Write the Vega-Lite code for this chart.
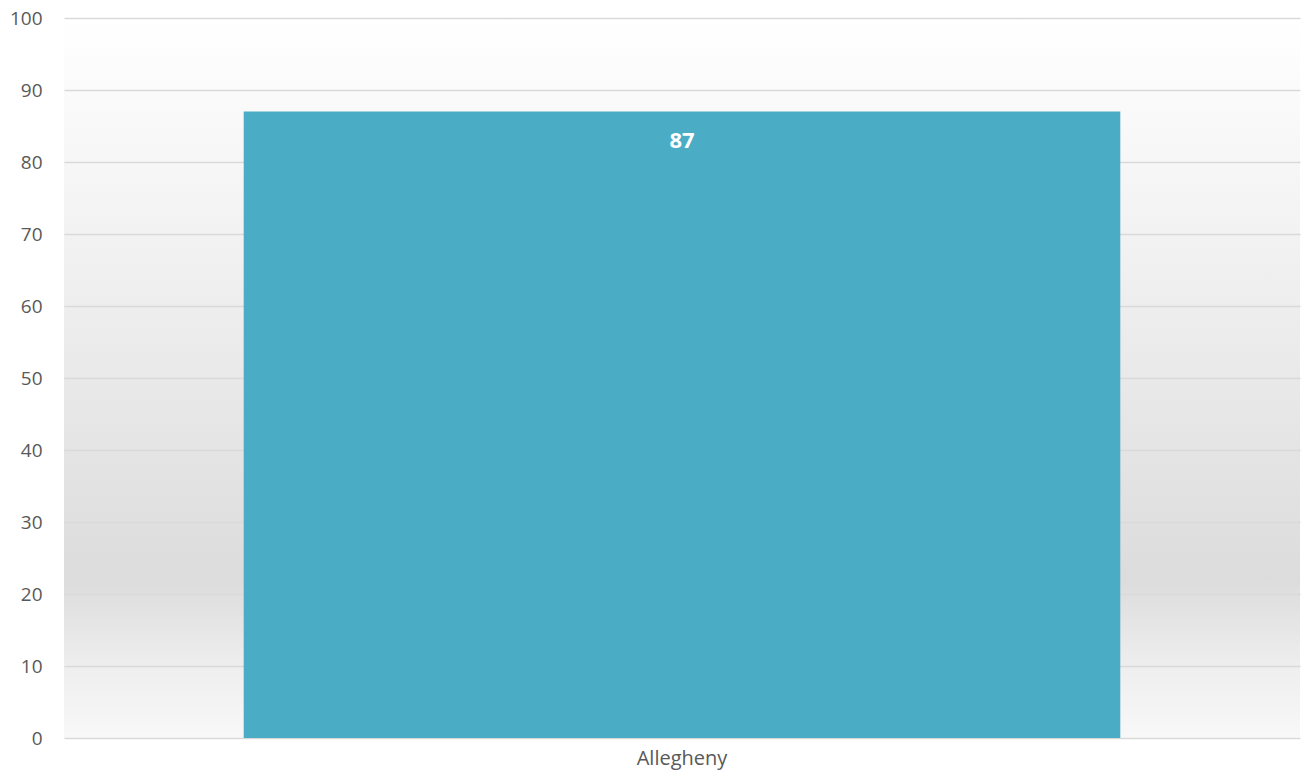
{
  "$schema": "https://vega.github.io/schema/vega-lite/v6.json",
  "autosize": {"type": "none"},
  "padding": {"left": 64, "top": 18, "right": 14, "bottom": 46},
  "width": 1236,
  "height": 720,
  "background": "#ffffff",
  "config": {
    "view": {
      "stroke": null,
      "fill": {
        "gradient": "linear",
        "x1": 0, "y1": 0, "x2": 0, "y2": 1,
        "stops": [
          {"offset": 0, "color": "#ffffff"},
          {"offset": 0.35, "color": "#f0f0f0"},
          {"offset": 0.78, "color": "#dcdcdc"},
          {"offset": 0.9, "color": "#eeeeee"},
          {"offset": 1, "color": "#f8f8f8"}
        ]
      }
    },
    "font": "Open Sans",
    "axis": {
      "labelFont": "Open Sans",
      "labelFontSize": 19,
      "labelColor": "#595959",
      "domain": false,
      "ticks": false,
      "gridColor": "#d9d9d9",
      "gridWidth": 1.5
    }
  },
  "data": {"values": [{"county": "Allegheny", "value": 87}]},
  "encoding": {
    "x": {
      "field": "county", "type": "nominal",
      "scale": {"paddingInner": 0, "paddingOuter": 0.205},
      "axis": {"title": null, "labelAngle": 0, "labelPadding": 10, "grid": false, "labelFontSize": 20}
    },
    "y": {
      "field": "value", "type": "quantitative",
      "scale": {"domain": [0, 100]},
      "axis": {"title": null, "values": [0,10,20,30,40,50,60,70,80,90,100], "labelOverlap": false, "labelPadding": 22, "grid": true}
    }
  },
  "layer": [
    {
      "mark": {"type": "bar", "color": "#4BACC6"}
    },
    {
      "mark": {"type": "text", "color": "#ffffff", "fontWeight": "bold", "fontSize": 22, "baseline": "middle", "dy": 29},
      "encoding": {
        "text": {"field": "value", "type": "quantitative"}
      }
    }
  ]
}
